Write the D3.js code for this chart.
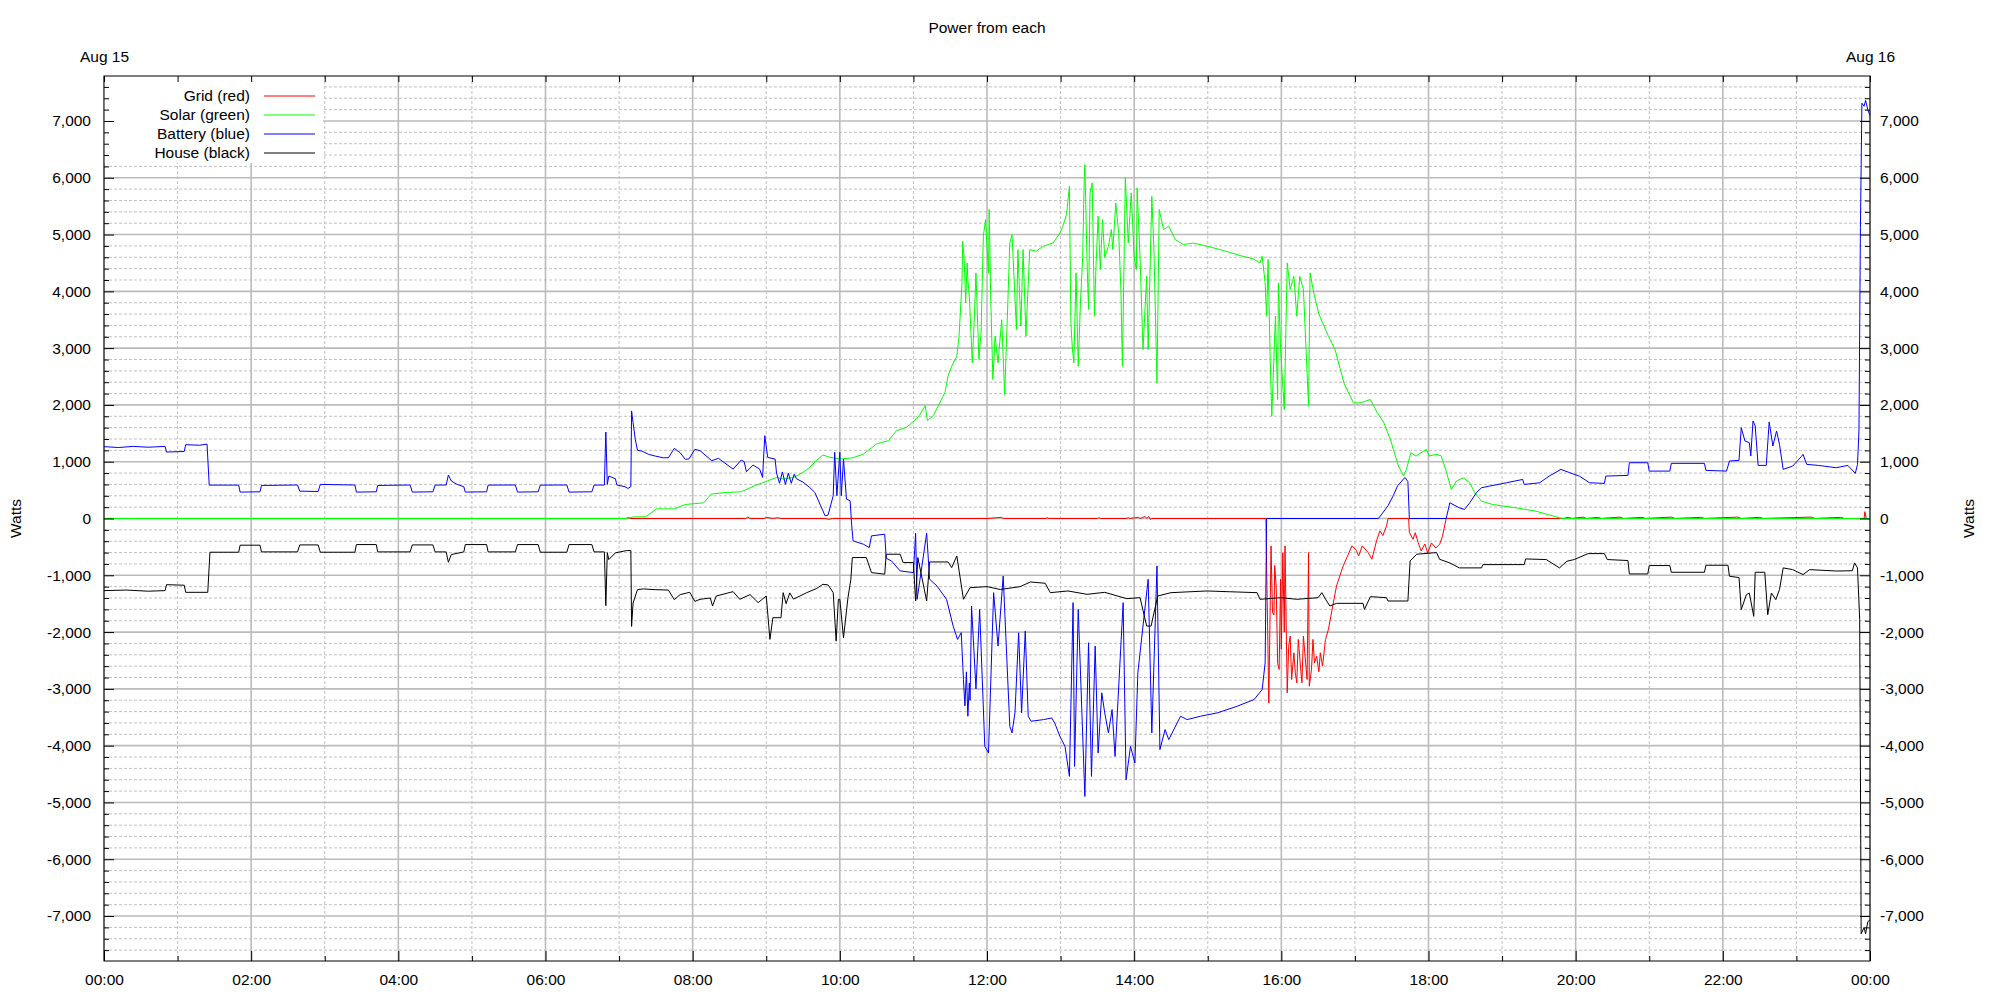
<!DOCTYPE html>
<html><head><meta charset="utf-8">
<script src="https://cdn.jsdelivr.net/npm/d3@7"></script>
<style>
body{margin:0;background:#fff;}
svg{display:block;font-family:"Liberation Sans",Arial,sans-serif;}
</style></head><body>
<svg id="c" width="2000" height="1000"></svg>
<script>
// ---------------- data ----------------
const titleText = "Power from each";
const yAxisLabel = "Watts";
const topLabels = [[0, "Aug 15"], [24, "Aug 16"]];
const xMajorHours = [0, 2, 4, 6, 8, 10, 12, 14, 16, 18, 20, 22, 24];
const xMinorHours = [1, 3, 5, 7, 9, 11, 13, 15, 17, 19, 21, 23];
const yMajorTicks = [-7000, -6000, -5000, -4000, -3000, -2000, -1000, 0, 1000, 2000, 3000, 4000, 5000, 6000, 7000];
const yDomain = [-7792, 7792];
const seriesNames = ["Grid (red)", "Solar (green)", "Battery (blue)", "House (black)"];
const seriesColors = ["#ff0000", "#00ff00", "#0000ff", "#000000"];

// [hour of day, watts]
const gridData = [
[0,0],[7.1,0],[7.12,20],[7.15,0],[8.72,0],[8.75,25],[8.78,0],[8.97,0],[9.0,20],[9.05,10],[9.1,0],[9.15,15],[9.2,0],[9.8,0],[9.85,-15],[9.9,0],
[12.0,0],[12.2,20],[12.22,0],[12.8,0],[12.82,15],[12.84,0],[13.5,0],[13.52,15],[13.54,0],[13.9,0],[13.92,15],[13.94,0],[14.06,20],[14.08,0],
[14.15,35],[14.17,0],[14.2,35],[14.22,-20],[14.24,0],[15.79,0],
[15.83,-3247],[15.86,-482],[15.88,-1659],[15.90,-1700],[15.91,-826],[15.93,-1188],[15.95,-2553],[15.97,-2659],[15.99,-1070],[16.00,-2300],
[16.02,-600],[16.04,-2000],[16.05,-482],[16.08,-3070],[16.10,-2247],[16.12,-2070],[16.14,-2835],[16.17,-2365],[16.19,-2717],[16.21,-2894],
[16.23,-2129],[16.26,-2600],[16.28,-2894],[16.30,-2070],[16.33,-2541],[16.35,-2835],[16.37,-600],[16.38,-2953],[16.41,-2659],[16.43,-2129],
[16.45,-2541],[16.48,-2424],[16.51,-2700],[16.53,-2365],[16.56,-2600],[16.6,-2129],[16.64,-1953],[16.69,-1600],[16.75,-1188],[16.84,-835],
[16.9,-659],[16.96,-482],[17.02,-560],[17.05,-659],[17.1,-482],[17.18,-600],[17.23,-718],[17.3,-365],[17.34,-218],[17.38,-300],[17.43,-129],
[17.45,0],[17.73,0],[17.74,-247],[17.79,-365],[17.82,-250],[17.86,-424],[17.9,-570],[17.95,-450],[17.99,-606],[18.04,-430],[18.1,-520],
[18.15,-460],[18.19,-312],[18.24,0],[19.83,0],[19.9,20],[19.95,0],[20.1,25],[20.15,0],[20.3,20],[20.35,0],[20.6,25],[20.65,0],[20.9,20],
[20.95,0],[21.3,25],[21.35,0],[21.7,20],[21.75,0],[22.2,25],[22.25,0],[22.5,20],[22.55,0],[23.2,25],[23.25,0],[23.6,20],[23.65,0],[23.92,0],
[23.93,120],[23.95,0],[24,0]
];

const solarData = [
[0,0],[7.1,0],[7.2,29],[7.36,29],[7.51,170],[7.75,170],[7.9,247],[8.15,276],[8.25,429],[8.45,459],[8.66,470],[8.84,576],[9.02,665],[9.14,723],
[9.23,694],[9.37,723],[9.5,812],[9.59,900],[9.68,1018],[9.77,1118],[9.86,1080],[10.0,1047],[10.18,1070],[10.32,1135],[10.5,1312],[10.57,1340],
[10.66,1371],[10.77,1547],[10.91,1606],[11.01,1723],[11.08,1812],[11.16,1988],[11.19,1723],[11.27,1812],[11.34,1988],[11.43,2224],[11.47,2505],
[11.52,2682],[11.59,2858],[11.62,3210],[11.66,4149],[11.67,4882],[11.69,4560],[11.71,3797],[11.73,4500],[11.74,4200],[11.76,3914],[11.8,2740],
[11.83,3600],[11.85,4325],[11.89,2799],[11.92,3300],[11.95,4970],[11.98,5264],[12.02,4325],[12.03,5440],[12.05,3900],[12.08,2447],[12.11,3210],
[12.15,2740],[12.2,3500],[12.24,2183],[12.28,3680],[12.31,4853],[12.34,5000],[12.4,3327],[12.42,4735],[12.46,3386],[12.49,4735],[12.53,3210],
[12.58,4735],[12.67,4706],[12.76,4794],[12.9,4853],[12.99,5029],[13.03,5146],[13.08,5352],[13.12,5850],[13.14,3445],[13.16,3000],[13.18,2740],
[13.21,4325],[13.24,2682],[13.27,3797],[13.30,4600],[13.32,5909],[13.33,6232],[13.36,4500],[13.38,3680],[13.40,5733],[13.43,5909],[13.46,3562],
[13.48,4400],[13.51,5322],[13.54,4383],[13.57,5264],[13.60,4600],[13.65,4794],[13.69,5088],[13.71,4735],[13.75,5557],[13.79,5029],[13.82,4000],
[13.84,2682],[13.88,5997],[13.92,4853],[13.96,5733],[14.0,4600],[14.03,4383],[14.04,5821],[14.08,4600],[14.12,2975],[14.17,4266],[14.19,2975],
[14.24,5674],[14.27,4677],[14.31,2388],[14.34,5440],[14.4,5088],[14.47,5146],[14.56,4911],[14.67,4824],[14.81,4850],[14.99,4794],[15.17,4735],
[15.44,4630],[15.62,4571],[15.71,4501],[15.74,4618],[15.78,4149],[15.8,3562],[15.82,4560],[15.85,2740],[15.87,1801],[15.92,3562],[15.95,2095],
[15.96,4149],[15.99,2975],[16.04,1919],[16.08,4501],[16.12,4032],[16.17,4266],[16.21,3562],[16.25,4266],[16.3,4032],[16.37,1977],[16.39,4325],
[16.44,3973],[16.51,3600],[16.64,3210],[16.73,2975],[16.85,2388],[16.98,2036],[17.07,2036],[17.21,2095],[17.3,1870],[17.39,1694],[17.48,1400],
[17.59,929],[17.66,753],[17.70,865],[17.76,1159],[17.83,1100],[17.97,1218],[18.01,1100],[18.1,1129],[18.17,1106],[18.24,835],[18.31,512],
[18.38,659],[18.47,718],[18.56,629],[18.63,453],[18.72,306],[18.87,247],[19.19,188],[19.46,129],[19.78,12],[19.83,0],[24,0]
];

const batteryData = [
[0,1265],[0.2,1250],[0.4,1270],[0.6,1255],[0.83,1270],[0.85,1170],[1.09,1180],[1.11,1300],[1.3,1290],[1.40,1310],[1.43,588],
[1.83,588],[1.85,465],[2.12,470],[2.14,582],[2.63,590],[2.66,482],[2.91,475],[2.94,600],[3.41,590],[3.43,465],[3.70,470],[3.72,582],[4.16,590],
[4.19,465],[4.47,470],[4.50,588],[4.65,590],[4.68,765],[4.72,660],[4.80,600],[4.89,560],[4.91,465],[5.20,470],[5.22,588],[5.59,590],[5.62,465],
[5.90,470],[5.93,588],[6.29,590],[6.32,465],[6.63,470],[6.66,588],[6.80,590],[6.82,1523],[6.84,600],[6.86,747],[6.95,700],[6.97,590],[7.08,560],
[7.12,529],[7.16,560],[7.17,1894],[7.19,1688],[7.22,1394],[7.25,1200],[7.31,1188],[7.4,1130],[7.49,1100],[7.6,1070],[7.67,1070],[7.75,1235],
[7.83,1159],[7.9,1041],[7.95,1050],[8.03,1218],[8.10,1194],[8.26,1018],[8.35,1060],[8.55,870],[8.66,1029],[8.70,1000],[8.73,823],[8.82,941],
[8.91,870],[8.95,723],[8.98,1459],[9.02,1076],[9.12,1047],[9.14,800],[9.18,620],[9.22,820],[9.26,600],[9.30,800],[9.34,620],[9.38,780],[9.41,700],
[9.50,640],[9.59,547],[9.66,459],[9.74,223],[9.80,47],[9.84,60],[9.91,400],[9.93,1165],[9.96,400],[10.0,1165],[10.02,400],[10.05,1047],[10.09,341],
[10.14,312],[10.16,-100],[10.18,-394],[10.32,-453],[10.40,-512],[10.43,-306],[10.61,-276],[10.63,-700],[10.70,-747],[10.82,-923],[11.0,-953],
[11.03,-259],[11.05,-1424],[11.18,-259],[11.22,-1070],[11.32,-1188],[11.45,-1424],[11.54,-1894],[11.6,-2130],[11.65,-2010],[11.68,-2835],
[11.70,-3300],[11.72,-2700],[11.74,-3482],[11.76,-2900],[11.77,-3200],[11.79,-1541],[11.85,-3000],[11.9,-1600],[11.97,-4012],[12.02,-4129],
[12.09,-1306],[12.15,-2247],[12.22,-1012],[12.31,-3659],[12.34,-3776],[12.38,-3423],[12.43,-2012],[12.47,-3423],[12.52,-1982],[12.56,-3482],
[12.6,-3570],[12.77,-3541],[12.88,-3512],[12.92,-3600],[12.99,-3835],[13.06,-4012],[13.12,-4541],[13.17,-1482],[13.19,-4365],[13.24,-1600],
[13.33,-4894],[13.38,-2188],[13.42,-4541],[13.47,-2247],[13.51,-4129],[13.56,-3070],[13.60,-3423],[13.65,-3776],[13.70,-3364],[13.74,-4188],
[13.85,-1482],[13.89,-4600],[13.95,-4012],[14.01,-4306],[14.05,-2718],[14.19,-1070],[14.24,-3776],[14.31,-835],[14.35,-4070],[14.42,-3717],
[14.47,-3894],[14.63,-3482],[14.72,-3541],[14.9,-3482],[15.13,-3423],[15.4,-3306],[15.63,-3188],[15.74,-3012],[15.78,-2541],[15.80,0],[17.32,0],
[17.45,224],[17.52,400],[17.58,576],[17.68,723],[17.72,650],[17.74,0],[18.24,0],[18.29,276],[18.42,188],[18.49,159],[18.56,276],[18.65,453],
[18.72,541],[18.83,571],[19.06,629],[19.28,688],[19.30,600],[19.51,629],[19.64,747],[19.8,865],[19.92,806],[20.05,747],[20.19,629],[20.39,618],
[20.41,747],[20.71,759],[20.73,982],[20.98,982],[21.0,835],[21.28,835],[21.3,971],[21.75,971],[21.77,847],[22.05,835],[22.09,1012],[22.22,1024],
[22.25,1600],[22.30,1365],[22.36,1335],[22.38,1100],[22.41,1718],[22.44,1630],[22.48,935],[22.59,935],[22.63,1700],[22.68,1276],[22.73,1541],
[22.77,1306],[22.82,865],[22.95,924],[23.07,1095],[23.09,1129],[23.14,953],[23.3,935],[23.54,894],[23.7,935],[23.80,794],[23.83,953],[23.85,1542],
[23.87,5124],[23.89,7313],[23.92,7260],[23.94,7363],[23.97,7200],[24.0,7094]
];

const houseData = [
[0,-1270],[0.3,-1260],[0.6,-1280],[0.83,-1270],[0.85,-1165],[1.09,-1175],[1.11,-1300],[1.41,-1300],[1.44,-594],
[1.83,-594],[1.85,-470],[2.12,-470],[2.14,-588],[2.63,-588],[2.66,-465],[2.91,-465],[2.94,-594],[3.41,-594],[3.43,-459],[3.70,-459],[3.72,-588],
[4.16,-588],[4.19,-465],[4.47,-465],[4.50,-588],[4.65,-588],[4.68,-770],[4.72,-635],[4.89,-588],[4.91,-459],[5.20,-459],[5.22,-588],[5.59,-588],
[5.62,-459],[5.90,-459],[5.93,-594],[6.29,-594],[6.32,-459],[6.63,-459],[6.66,-588],[6.80,-588],[6.82,-1535],[6.84,-600],[6.86,-723],[6.95,-605],
[7.1,-565],[7.16,-565],[7.17,-1900],[7.19,-1488],[7.25,-1253],[7.33,-1240],[7.49,-1253],[7.67,-1260],[7.75,-1429],[7.83,-1340],[7.96,-1300],
[8.03,-1459],[8.10,-1423],[8.24,-1400],[8.27,-1541],[8.32,-1365],[8.55,-1288],[8.64,-1423],[8.78,-1340],[8.89,-1482],[9.0,-1365],[9.05,-2129],
[9.09,-1747],[9.2,-1747],[9.23,-1306],[9.27,-1500],[9.32,-1310],[9.37,-1420],[9.55,-1306],[9.68,-1235],[9.77,-1159],[9.84,-1170],[9.91,-1306],
[9.95,-2159],[9.98,-1423],[10.0,-1423],[10.05,-2100],[10.11,-1400],[10.15,-1070],[10.17,-688],[10.36,-688],[10.43,-953],[10.61,-980],[10.63,-629],
[10.82,-629],[10.86,-776],[11.0,-776],[11.03,-1453],[11.06,-688],[11.18,-1453],[11.22,-765],[11.47,-765],[11.52,-865],[11.59,-659],[11.68,-1423],
[11.77,-1218],[12.0,-1200],[12.18,-1250],[12.45,-1200],[12.59,-1118],[12.79,-1140],[12.86,-1306],[13.1,-1276],[13.36,-1335],[13.6,-1300],
[13.9,-1412],[14.08,-1394],[14.17,-1894],[14.23,-1894],[14.32,-1365],[14.5,-1306],[14.99,-1276],[15.3,-1290],[15.67,-1306],[15.71,-1423],
[16.0,-1394],[16.21,-1423],[16.5,-1394],[16.55,-1306],[16.6,-1420],[16.66,-1541],[16.75,-1494],[17.11,-1494],[17.13,-1600],[17.21,-1376],
[17.43,-1394],[17.45,-1453],[17.72,-1453],[17.75,-747],[17.84,-629],[18.11,-600],[18.15,-718],[18.29,-782],[18.42,-870],[18.72,-870],[18.74,-812],
[19.3,-812],[19.32,-712],[19.6,-723],[19.78,-870],[19.88,-753],[19.98,-723],[20.17,-618],[20.39,-618],[20.43,-723],[20.71,-740],[20.73,-976],
[20.98,-976],[21.0,-829],[21.28,-829],[21.3,-947],[21.75,-947],[21.77,-823],[22.07,-823],[22.09,-1017],[22.22,-1040],[22.25,-1606],[22.32,-1341],
[22.36,-1312],[22.42,-1723],[22.44,-947],[22.57,-947],[22.61,-1694],[22.66,-1312],[22.72,-1429],[22.77,-1250],[22.82,-870],[22.95,-900],
[23.09,-988],[23.18,-900],[23.54,-925],[23.76,-920],[23.79,-782],[23.83,-870],[23.86,-1782],[23.88,-7313],[23.92,-7200],[23.94,-7313],
[23.97,-7100],[24.0,-7065]
];

const seriesData = [gridData, solarData, batteryData, houseData];

// ---------------- drawing ----------------
const W = 2000, H = 1000;
const m = {l: 104, r: 130, t: 76, b: 39};
const fontSize = "15.5px";
const svg = d3.select("#c");
const x = d3.scaleLinear().domain([0, 24]).range([m.l, W - m.r]);
const y = d3.scaleLinear().domain(yDomain).range([H - m.b, m.t]);
const fmt = d3.formatLocale({decimal: ".", thousands: ",", grouping: [3], currency: ["", ""], minus: "-"}).format(",");
const yMinorTicks = d3.range(-7600, 7601, 200).filter(v => v % 1000 !== 0);
const xAllHours = xMajorHours.concat(xMinorHours);

svg.append("rect").attr("width", W).attr("height", H).attr("fill", "#fff");

// grid
const grid = svg.append("g");
grid.selectAll(".hmin").data(yMinorTicks).join("line")
  .attr("x1", m.l).attr("x2", W - m.r).attr("y1", d => y(d)).attr("y2", d => y(d))
  .attr("stroke", "#c0c0c0").attr("stroke-width", 1).attr("stroke-dasharray", "3,2");
grid.selectAll(".vmin").data(xMinorHours).join("line")
  .attr("y1", m.t).attr("y2", H - m.b).attr("x1", d => x(d)).attr("x2", d => x(d))
  .attr("stroke", "#c0c0c0").attr("stroke-width", 1).attr("stroke-dasharray", "3,2");
grid.selectAll(".hmaj").data(yMajorTicks).join("line")
  .attr("x1", m.l).attr("x2", W - m.r).attr("y1", d => y(d)).attr("y2", d => y(d))
  .attr("stroke", "#bbbbbb").attr("stroke-width", 1.6);
grid.selectAll(".vmaj").data(xMajorHours).join("line")
  .attr("y1", m.t).attr("y2", H - m.b).attr("x1", d => x(d)).attr("x2", d => x(d))
  .attr("stroke", "#bbbbbb").attr("stroke-width", 1.6);

// legend box (opaque)
svg.append("rect").attr("x", m.l).attr("y", m.t).attr("width", 219).attr("height", 87).attr("fill", "#fff");

// series
svg.append("clipPath").attr("id", "clip").append("rect")
  .attr("x", m.l).attr("y", m.t).attr("width", W - m.l - m.r).attr("height", H - m.t - m.b);
const line = d3.line().x(d => x(d[0])).y(d => y(d[1]));
const plot = svg.append("g").attr("clip-path", "url(#clip)");
seriesData.forEach((data, i) => {
  plot.append("path").datum(data).attr("d", line)
    .attr("fill", "none").attr("stroke", seriesColors[i]).attr("stroke-width", 1)
    .attr("stroke-linejoin", "miter");
});

// axes
function styleAxis(g) {
  g.select(".domain").remove();
  g.selectAll(".tick line").attr("stroke", "#000").attr("stroke-width", 1);
  g.selectAll(".tick text").attr("fill", "#000").style("font-size", fontSize)
    .style("font-family", '"Liberation Sans",Arial,sans-serif');
}
svg.append("g").attr("transform", `translate(${m.l},0)`)
  .call(d3.axisLeft(y).tickValues(yMajorTicks).tickSize(-10).tickPadding(13).tickFormat(fmt)).call(styleAxis);
svg.append("g").attr("transform", `translate(${m.l},0)`)
  .call(d3.axisLeft(y).tickValues(yMinorTicks).tickSize(-5).tickFormat("")).call(styleAxis);
svg.append("g").attr("transform", `translate(${W - m.r},0)`)
  .call(d3.axisRight(y).tickValues(yMajorTicks).tickSize(-10).tickPadding(10).tickFormat(fmt)).call(styleAxis);
svg.append("g").attr("transform", `translate(${W - m.r},0)`)
  .call(d3.axisRight(y).tickValues(yMinorTicks).tickSize(-5).tickFormat("")).call(styleAxis);
const hfmt = h => String(h % 24).padStart(2, "0") + ":00";
svg.append("g").attr("transform", `translate(0,${H - m.b})`)
  .call(d3.axisBottom(x).tickValues(xMajorHours).tickSize(-10).tickPadding(13).tickFormat(hfmt)).call(styleAxis);
svg.append("g").attr("transform", `translate(0,${H - m.b})`)
  .call(d3.axisBottom(x).tickValues(xMinorHours).tickSize(-5).tickFormat("")).call(styleAxis);
svg.append("g").attr("transform", `translate(0,${m.t})`)
  .call(d3.axisTop(x).tickValues(xAllHours).tickSize(-6).tickFormat("")).call(styleAxis);
svg.append("g").attr("transform", `translate(0,${m.t})`)
  .call(d3.axisTop(x).tickValues(topLabels.map(d => d[0])).tickSize(0).tickPadding(14)
    .tickFormat((d, i) => topLabels[i][1])).call(styleAxis);

// border
svg.append("rect").attr("x", m.l).attr("y", m.t).attr("width", W - m.l - m.r).attr("height", H - m.t - m.b)
  .attr("fill", "none").attr("stroke", "#000").attr("stroke-width", 1);

// legend
const leg = svg.append("g");
seriesNames.forEach((name, i) => {
  const yy = 96 + i * 19;
  leg.append("text").attr("x", 250).attr("y", yy).attr("dy", "0.35em").attr("text-anchor", "end")
    .style("font-size", fontSize).attr("fill", "#000").text(name);
  leg.append("line").attr("x1", 264).attr("x2", 315).attr("y1", yy).attr("y2", yy)
    .attr("stroke", seriesColors[i]).attr("stroke-width", 1);
});

// title and axis labels
svg.append("text").attr("x", (m.l + W - m.r) / 2).attr("y", 33).attr("text-anchor", "middle")
  .style("font-size", fontSize).attr("fill", "#000").text(titleText);
svg.append("text").attr("transform", `translate(20.5,${(m.t + H - m.b) / 2}) rotate(-90)`).attr("text-anchor", "middle")
  .style("font-size", fontSize).attr("fill", "#000").text(yAxisLabel);
svg.append("text").attr("transform", `translate(1973.5,${(m.t + H - m.b) / 2}) rotate(-90)`).attr("text-anchor", "middle")
  .style("font-size", fontSize).attr("fill", "#000").text(yAxisLabel);
</script>
</body></html>
